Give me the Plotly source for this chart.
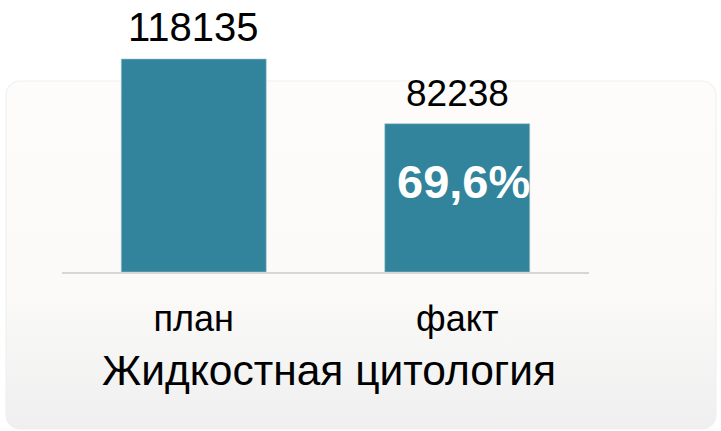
import base64
import plotly.graph_objects as go

categories = ["план", "факт"]
values = [118135, 82238]
title_text = "Жидкостная цитология"

bar_color = "#31849b"
font_family = "Arial, Liberation Sans, sans-serif"

# plot area in pixels (721x431 window)
W, H = 721, 431
L, R, T, B = 62, 132, 0, 159
pw, ph = W - L - R, H - T - B

def px_x(x):
    return (x - L) / pw

def px_y(y):
    return (H - B - y) / ph

ymax = values[0] * ph / 213

# soft rounded panel behind the chart
svg = """<svg xmlns='http://www.w3.org/2000/svg' width='712' height='350' viewBox='0 0 712 350' preserveAspectRatio='none'>
<defs><linearGradient id='g' x1='0' y1='0' x2='0' y2='1'>
<stop offset='0' stop-color='#fdfcfb'/><stop offset='0.6' stop-color='#fbfaf9'/><stop offset='1' stop-color='#efefef'/>
</linearGradient></defs>
<rect x='1' y='1' width='710' height='348' rx='14' ry='14' fill='url(#g)' stroke='#eff0f2' stroke-width='1.2'/>
</svg>"""
svg_uri = "data:image/svg+xml;base64," + base64.b64encode(svg.encode()).decode()

fig = go.Figure()
fig.add_trace(go.Bar(
    x=categories, y=values,
    marker=dict(color=bar_color, line=dict(color="#9fc2cc", width=0.6)),
    width=0.55,
    hoverinfo="skip",
))

# value labels above bars
label_sizes = [40, 37]
label_shift = [32, 30]
for c, v, s, sh in zip(categories, values, label_sizes, label_shift):
    fig.add_annotation(x=c, y=v, text=str(v), showarrow=False,
                       yshift=sh, font=dict(size=s, color="#000000", family=font_family))

pct = values[1] / values[0] * 100
fig.add_annotation(x=categories[1], y=values[1] / 2, text=f"{pct:.1f}%".replace(".", ","),
                   showarrow=False, yshift=16, xshift=6,
                   font=dict(size=47, color="#ffffff", family=font_family, weight="bold"))

fig.add_annotation(xref="paper", yref="paper", x=px_x(329), y=px_y(370), text=title_text,
                   xanchor="center", yanchor="middle",
                   showarrow=False, font=dict(size=42.5, color="#000000", family=font_family))

fig.add_layout_image(source=svg_uri, xref="paper", yref="paper",
                     x=px_x(5), y=px_y(80), sizex=(717 - 5) / pw, sizey=(430 - 80) / ph,
                     xanchor="left", yanchor="top", sizing="stretch", layer="below")

fig.update_layout(
    width=W, height=H,
    margin=dict(l=L, r=R, t=T, b=B, autoexpand=False),
    paper_bgcolor="#ffffff", plot_bgcolor="rgba(0,0,0,0)",
    showlegend=False,
    font=dict(family=font_family, color="#000000"),
    xaxis=dict(showline=True, linecolor="#d6d6d6", linewidth=2, ticks="",
               tickfont=dict(size=36, color="#000000"), showgrid=False,
               ticklabelstandoff=14, fixedrange=True),
    yaxis=dict(visible=False, range=[0, ymax], showgrid=False, zeroline=False, fixedrange=True),
)

fig.write_html("out.html", config={"displayModeBar": False},
               post_script="document.body.style.margin='0';document.body.style.overflow='hidden';")
